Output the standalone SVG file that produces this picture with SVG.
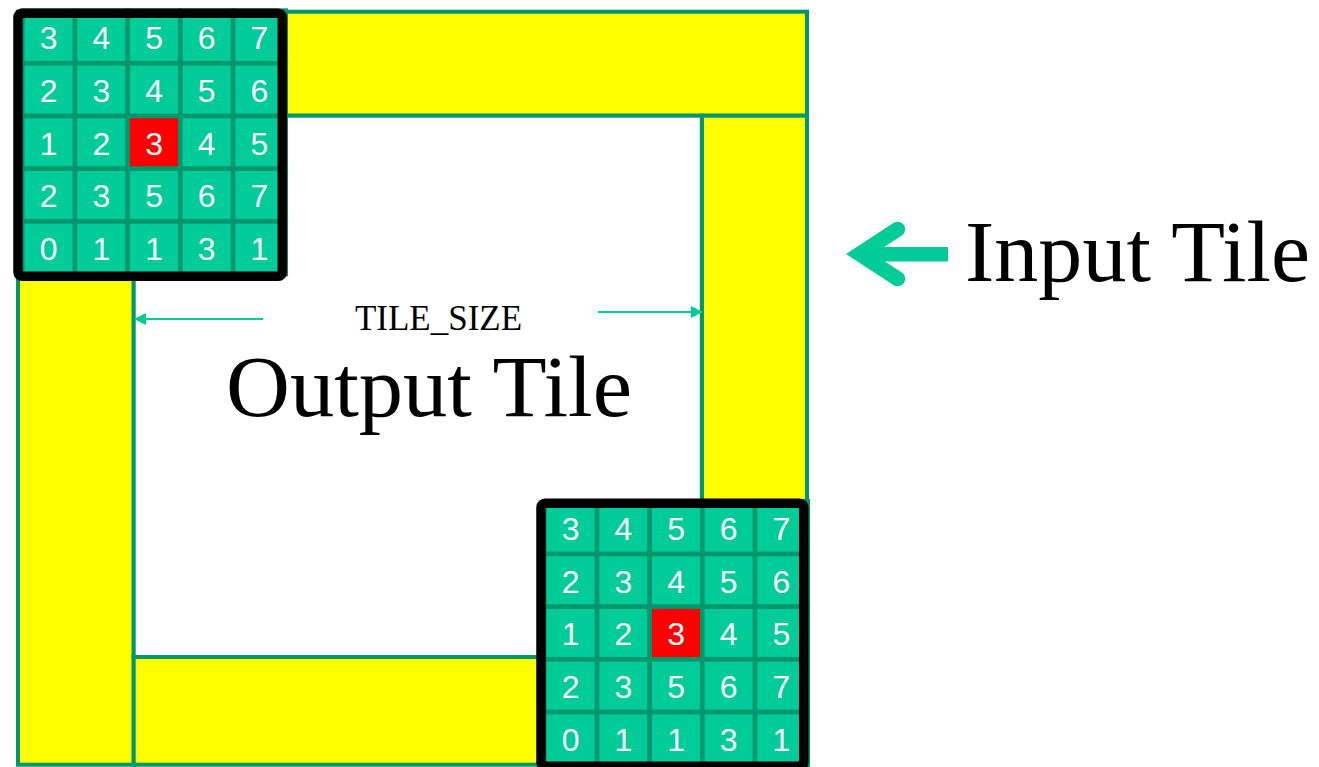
<svg xmlns="http://www.w3.org/2000/svg" width="1319" height="767" viewBox="0 0 1319 767">
<defs>
<style>
.band{fill:#FFFF00;stroke:#00966E;stroke-width:4}
.inner{fill:#FFFFFF;stroke:#00966E;stroke-width:4}
.cell{fill:#00CC99;stroke:#00966E;stroke-width:4.5}
.hot{fill:#FF0000;stroke:#00966E;stroke-width:4.5}
.frame{fill:none;stroke:#000000;stroke-width:9.5}
.num{font-family:"Liberation Sans",Arial,sans-serif;font-size:32px;fill:#FFFFFF;text-anchor:middle}
.serif{font-family:"Liberation Serif","Times New Roman",serif;fill:#000000}
.dim{stroke:#00CC99;stroke-width:2;fill:none}
</style>
<marker id="dimhead" viewBox="0 0 12 12" refX="11" refY="6" markerWidth="12" markerHeight="12" markerUnits="userSpaceOnUse" orient="auto">
<path d="M0,0 L12,6 L0,12 Z" fill="#00CC99"/>
</marker>
<g id="gridcells">
<rect class="cell" x="0" y="0" width="52.7" height="52.7"/><rect class="cell" x="52.7" y="0" width="52.7" height="52.7"/><rect class="cell" x="105.4" y="0" width="52.7" height="52.7"/><rect class="cell" x="158.1" y="0" width="52.7" height="52.7"/><rect class="cell" x="210.8" y="0" width="52.7" height="52.7"/>
<rect class="cell" x="0" y="52.7" width="52.7" height="52.7"/><rect class="cell" x="52.7" y="52.7" width="52.7" height="52.7"/><rect class="cell" x="105.4" y="52.7" width="52.7" height="52.7"/><rect class="cell" x="158.1" y="52.7" width="52.7" height="52.7"/><rect class="cell" x="210.8" y="52.7" width="52.7" height="52.7"/>
<rect class="cell" x="0" y="105.4" width="52.7" height="52.7"/><rect class="cell" x="52.7" y="105.4" width="52.7" height="52.7"/><rect class="hot" x="105.4" y="105.4" width="52.7" height="52.7"/><rect class="cell" x="158.1" y="105.4" width="52.7" height="52.7"/><rect class="cell" x="210.8" y="105.4" width="52.7" height="52.7"/>
<rect class="cell" x="0" y="158.1" width="52.7" height="52.7"/><rect class="cell" x="52.7" y="158.1" width="52.7" height="52.7"/><rect class="cell" x="105.4" y="158.1" width="52.7" height="52.7"/><rect class="cell" x="158.1" y="158.1" width="52.7" height="52.7"/><rect class="cell" x="210.8" y="158.1" width="52.7" height="52.7"/>
<rect class="cell" x="0" y="210.8" width="52.7" height="52.7"/><rect class="cell" x="52.7" y="210.8" width="52.7" height="52.7"/><rect class="cell" x="105.4" y="210.8" width="52.7" height="52.7"/><rect class="cell" x="158.1" y="210.8" width="52.7" height="52.7"/><rect class="cell" x="210.8" y="210.8" width="52.7" height="52.7"/>
<text class="num" x="26.35" y="38.6">3</text><text class="num" x="79.05" y="38.6">4</text><text class="num" x="131.75" y="38.6">5</text><text class="num" x="184.45" y="38.6">6</text><text class="num" x="237.15" y="38.6">7</text>
<text class="num" x="26.35" y="91.3">2</text><text class="num" x="79.05" y="91.3">3</text><text class="num" x="131.75" y="91.3">4</text><text class="num" x="184.45" y="91.3">5</text><text class="num" x="237.15" y="91.3">6</text>
<text class="num" x="26.35" y="144">1</text><text class="num" x="79.05" y="144">2</text><text class="num" x="131.75" y="144">3</text><text class="num" x="184.45" y="144">4</text><text class="num" x="237.15" y="144">5</text>
<text class="num" x="26.35" y="196.7">2</text><text class="num" x="79.05" y="196.7">3</text><text class="num" x="131.75" y="196.7">5</text><text class="num" x="184.45" y="196.7">6</text><text class="num" x="237.15" y="196.7">7</text>
<text class="num" x="26.35" y="249.4">0</text><text class="num" x="79.05" y="249.4">1</text><text class="num" x="131.75" y="249.4">1</text><text class="num" x="184.45" y="249.4">3</text><text class="num" x="237.15" y="249.4">1</text>
</g>
</defs>

<g id="input-tile">
<rect class="band" x="18" y="11.7" width="789" height="104"/>
<rect class="band" x="18" y="115.7" width="115.7" height="649"/>
<rect class="band" x="701.8" y="115.7" width="105.2" height="649"/>
<rect class="band" x="133.7" y="657" width="568.1" height="107.7"/>
</g>

<g id="output-tile">
<rect class="inner" x="133.7" y="115.7" width="568.1" height="541.3"/>
<text class="serif" x="226" y="416" font-size="87" textLength="406" lengthAdjust="spacingAndGlyphs">Output Tile</text>
</g>

<g id="grid-top-left">
<use href="#gridcells" x="22.3" y="10.6"/>
<rect class="frame" x="18" y="13.3" width="264.3" height="263" rx="4"/>
</g>

<g id="grid-bottom-right">
<use href="#gridcells" x="544.3" y="501.3"/>
<rect class="frame" x="541" y="503.3" width="262.8" height="263" rx="4"/>
</g>

<g id="tile-size-label">
<text class="serif" x="355" y="330" font-size="35" textLength="167" lengthAdjust="spacingAndGlyphs">TILE_SIZE</text>
</g>

<g id="input-tile-label">
<text class="serif" x="965" y="281" font-size="86" textLength="345" lengthAdjust="spacingAndGlyphs">Input Tile</text>
</g>

<g id="connectors">
<line class="dim" x1="263" y1="319" x2="135" y2="319" marker-end="url(#dimhead)"/>
<line class="dim" x1="598" y1="312" x2="702" y2="312" marker-end="url(#dimhead)"/>
<path d="M846,254 L893.8,222.8 A7.5,7.5 0 0 1 902.2,235.2 L873.4,254 L902.2,272.8 A7.5,7.5 0 0 1 893.8,285.2 Z" fill="#00CC99"/>
<rect x="872" y="247" width="76" height="14.5" fill="#00CC99"/>
</g>
</svg>
